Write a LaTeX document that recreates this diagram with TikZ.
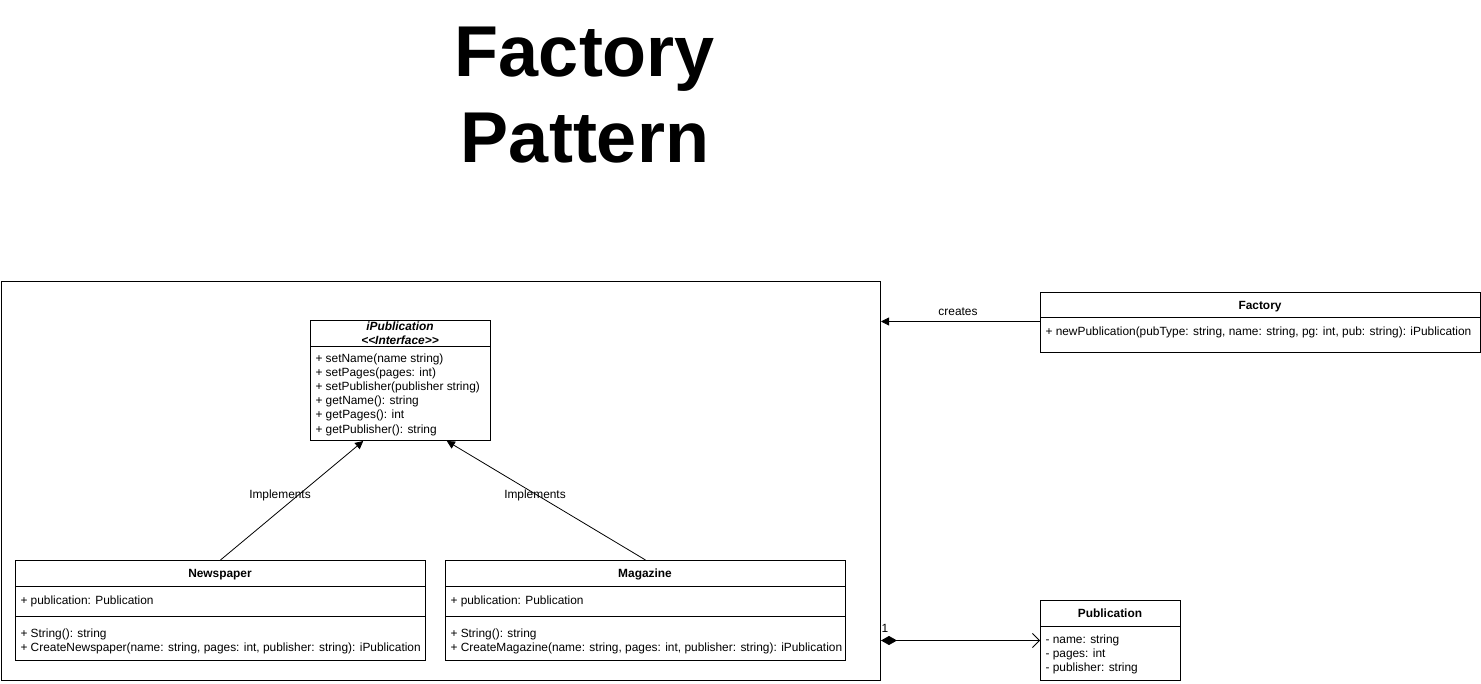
\documentclass[tikz,border=0pt]{standalone}
\usepackage{fontspec}
\setmainfont{Liberation Sans}
\usetikzlibrary{arrows.meta,calc}
\begin{document}
\begin{tikzpicture}[x=1pt,y=-1pt,line width=1pt,
  box/.style={draw,rectangle,inner sep=0pt,anchor=north west},
  fs/.style={font=\fontsize{11.9}{14}\selectfont},
  txt/.style={anchor=west,inner sep=0pt,text height=8.6pt,text depth=2.6pt,yshift=-1.2pt,fs},
  ttl/.style={anchor=center,inner sep=0pt,text height=8.6pt,text depth=2.6pt,yshift=-1.2pt,font=\fontsize{11.9}{14}\selectfont\bfseries},
  lbl/.style={anchor=center,inner sep=0pt,text height=8.6pt,text depth=2.6pt,yshift=-1.2pt,fs},
  impl/.style={-{Triangle[length=8pt,width=8pt]},line width=0.8pt}]
\useasboundingbox (0,0) rectangle (1481,684);
% title
\node[align=center,font=\fontsize{72}{86}\selectfont\bfseries,inner sep=0pt] (title) at (585,95) {Factory\\Pattern};
% outer container
\node[box,minimum width=879pt,minimum height=399pt] (outer) at (1,281) {};
% iPublication
\node[box,minimum width=180pt,minimum height=120pt] (ip) at (310,320) {};
\draw (310,347) -- (490,347);
\node[ttl,font=\fontsize{11.9}{14}\selectfont\bfseries\itshape] (iph1) at (400,326) {iPublication};
\node[ttl,font=\fontsize{11.9}{14}\selectfont\bfseries\itshape] (iph2) at (400,340) {<\kern0pt<Interface>\kern0pt>};
\node[txt] (ip1) at (315,358) {+ setName(name string)};
\node[txt] (ip2) at (315,372) {+ setPages(pages: int)};
\node[txt] (ip3) at (315,386) {+ setPublisher(publisher string)};
\node[txt] (ip4) at (315,400) {+ getName(): string};
\node[txt] (ip5) at (315,414) {+ getPages(): int};
\node[txt] (ip6) at (315,429) {+ getPublisher(): string};
% Newspaper
\node[box,minimum width=410pt,minimum height=100pt] (np) at (15,560) {};
\draw (15,586) -- (425,586);
\draw (15,616) -- (425,616);
\node[ttl] (npt) at (220,573) {Newspaper};
\node[txt] (np1) at (20,600) {+ publication: Publication};
\node[txt] (np2) at (20,633) {+ String(): string};
\node[txt] (np3) at (20,647) {+ CreateNewspaper(name: string, pages: int, publisher: string): iPublication};
% Magazine
\node[box,minimum width=400pt,minimum height=100pt] (mg) at (445,560) {};
\draw (445,586) -- (845,586);
\draw (445,616) -- (845,616);
\node[ttl] (mgt) at (645,573) {Magazine};
\node[txt] (mg1) at (450,600) {+ publication: Publication};
\node[txt] (mg2) at (450,633) {+ String(): string};
\node[txt] (mg3) at (450,647) {+ CreateMagazine(name: string, pages: int, publisher: string): iPublication};
% Factory
\node[box,minimum width=440pt,minimum height=60pt] (fac) at (1040,292) {};
\draw (1040,318) -- (1480,318);
\node[ttl] (fact) at (1260,305) {Factory};
\node[txt] (fac1) at (1045,331) {+ newPublication(pubType: string, name: string, pg: int, pub: string): iPublication};
% Publication
\node[box,minimum width=140pt,minimum height=80pt] (pub) at (1040,600) {};
\draw (1040,626) -- (1180,626);
\node[ttl] (pubt) at (1110,613) {Publication};
\node[txt] (pub1) at (1045,639) {- name: string};
\node[txt] (pub2) at (1045,653) {- pages: int};
\node[txt] (pub3) at (1045,667) {- publisher: string};
% connectors
\draw[impl] (np.north) -- ($(ip.south west)!0.294!(ip.south east)$);
\draw[impl] (mg.north) -- ($(ip.south west)!0.756!(ip.south east)$);
\node[lbl] (im1) at (280,494) {Implements};
\node[lbl] (im2) at (535,494) {Implements};
\coordinate (cr) at ($(fac.west)+(0,-1)$);
\draw[-{Triangle[length=8pt,width=8pt]},line width=0.8pt] (cr) -- (cr -| outer.east);
\node[lbl] (crl) at (958,311) {creates};
\draw[{Diamond[length=16pt,width=9pt]}-{Straight Barb[length=7pt,width=14pt]},line width=0.8pt] (pub.west -| outer.east) -- (pub.west);
\node[lbl] (one) at (885,628) {1};
\end{tikzpicture}
\end{document}
